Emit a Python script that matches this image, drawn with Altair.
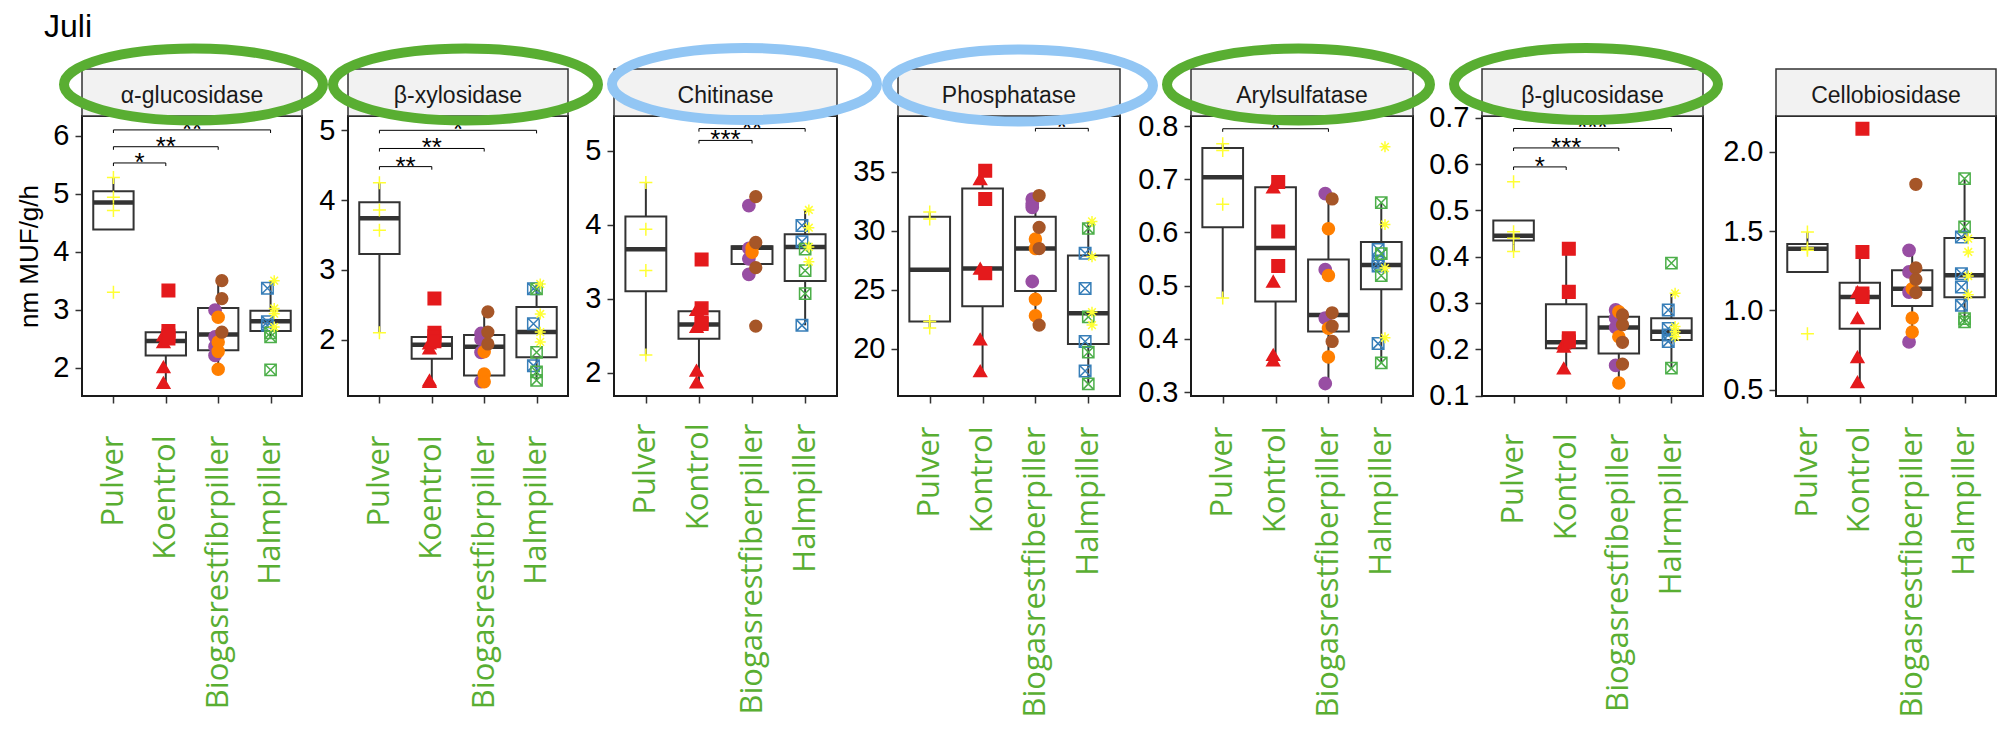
import altair as alt
import pandas as pd

# ---------------- data ----------------
ENZYMES = ["α-glucosidase", "β-xylosidase", "Chitinase", "Phosphatase",
           "Arylsulfatase", "β-glucosidase", "Cellobiosidase"]

X_LABELS = [
    ["Pulver", "Koentrol", "Biogasrestfibrpiller", "Halmpiller"],
    ["Pulver", "Koentrol", "Biogasrestfibrpiller", "Halmpiller"],
    ["Pulver", "Kontrol", "Biogasrestfiberpiller", "Halmpiller"],
    ["Pulver", "Kontrol", "Biogasrestfiberpiller", "Halmpiller"],
    ["Pulver", "Kontrol", "Biogasrestfiberpiller", "Halmpiller"],
    ["Pulver", "Kontrol", "Biogasrestfibepiller", "Halrmpiller"],
    ["Pulver", "Kontrol", "Biogasrestfiberpiller", "Halmpiller"],
]

Y_DOMAINS = [[1.51, 6.34], [1.195, 5.205], [1.685, 5.47], [15.98, 39.75],
             [0.2925, 0.819], [0.099, 0.704], [0.46, 2.227]]
Y_TICKS = [[2, 3, 4, 5, 6], [2, 3, 4, 5], [2, 3, 4, 5], [20, 25, 30, 35],
           [0.3, 0.4, 0.5, 0.6, 0.7, 0.8], [0.1, 0.2, 0.3, 0.4, 0.5, 0.6, 0.7],
           [0.5, 1.0, 1.5, 2.0]]
Y_FORMATS = ["d", "d", "d", "d", ".1f", ".1f", ".1f"]

# individual measurements, one list per panel
PULVER = [[5.28, 4.94, 4.71, 3.30], [4.25, 3.86, 3.57, 2.10], [4.57, 3.94, 3.38, 2.24],
          [31.6, 31.0, 22.3, 21.75], [0.767, 0.754, 0.653, 0.477],
          [0.562, 0.454, 0.440, 0.411], [1.495, 1.394, 1.379, 0.853]]
KONTROL_TRI = [[2.56, 2.44, 2.01, 1.74], [1.95, 1.88, 1.42, 1.40], [2.85, 2.62, 2.03, 1.87],
               [34.4, 26.8, 20.8, 18.1], [0.685, 0.508, 0.370, 0.360],
               [0.213, 0.206, 0.159], [1.116, 0.952, 0.706, 0.548]]
KONTROL_SQ = [[3.33, 2.63, 2.55, 2.50], [2.59, 2.10, 2.05, 1.98], [3.53, 2.87, 2.68, 2.66],
              [35.1, 32.7, 26.4], [0.695, 0.602, 0.537],
              [0.417, 0.324, 0.224, 0.217], [2.147, 1.369, 1.106, 1.085]]
BIO_PURPLE = [[2.99, 2.53, 2.36, 2.21], [2.09, 2.01, 1.82, 1.40], [4.26, 3.68, 3.54, 3.33],
              [32.7, 32.3, 32.0, 25.7], [0.673, 0.530, 0.439, 0.316],
              [0.285, 0.267, 0.247, 0.165], [1.379, 1.243, 1.116, 0.801]]
BIO_ORANGE = [[2.87, 2.44, 2.28, 1.97], [1.83, 1.51, 1.40], [3.69, 3.63],
              [29.3, 28.5, 24.2, 22.8], [0.607, 0.519, 0.420, 0.366],
              [0.281, 0.227, 0.127], [1.137, 0.952, 0.864]]
BIO_BROWN = [[3.50, 3.19, 2.61], [2.40, 2.11, 1.94], [4.38, 3.76, 3.42, 2.63],
             [33.0, 30.3, 28.5, 22.0], [0.663, 0.449, 0.424, 0.395],
             [0.274, 0.253, 0.215, 0.168], [1.796, 1.268, 1.196, 1.112]]
HALM_BLUE = [[3.37, 2.79, 2.73], [2.73, 2.23, 1.63], [3.99, 3.77, 2.64],
             [28.1, 25.1, 20.6, 18.1], [0.568, 0.544, 0.537, 0.391],
             [0.285, 0.245, 0.231, 0.217], [1.463, 1.232, 1.148, 1.032]]
HALM_GREEN = [[2.60, 2.53, 1.96], [2.73, 1.82, 1.54, 1.42], [3.67, 3.38, 3.07],
              [30.2, 22.7, 19.7, 17.0], [0.656, 0.560, 0.519, 0.355],
              [0.386, 0.159], [1.832, 1.527, 0.948, 0.927]]
HALM_STAR = [[3.50, 3.02, 2.93, 2.70], [2.80, 2.37, 2.11, 1.97], [4.20, 3.96, 3.70, 3.50],
             [30.8, 27.8, 23.1, 22.0], [0.761, 0.615, 0.533, 0.402],
             [0.321, 0.249, 0.238, 0.227], [1.453, 1.369, 1.217, 1.099]]

# box statistics per panel, order Pulver, Kontrol, Biogas, Halm
BOX_LO = [[4.71, 1.74, 1.97, 2.53], [2.10, 1.40, 1.40, 1.42], [2.24, 1.87, 3.33, 2.64],
          [21.75, 18.1, 22.0, 17.0], [0.477, 0.360, 0.316, 0.355],
          [0.411, 0.159, 0.127, 0.159], [1.379, 0.548, 0.801, 0.927]]
BOX_Q1 = [[4.38, 2.21, 2.30, 2.63], [3.23, 1.73, 1.49, 1.75], [3.10, 2.46, 3.47, 3.24],
          [22.3, 23.6, 24.9, 20.4], [0.610, 0.470, 0.414, 0.493],
          [0.435, 0.202, 0.191, 0.220], [1.243, 0.885, 1.028, 1.083]]
BOX_MED = [[4.85, 2.46, 2.57, 2.80], [3.74, 1.93, 1.90, 2.11], [3.67, 2.65, 3.69, 3.70],
           [26.7, 26.8, 28.5, 23.0], [0.704, 0.571, 0.445, 0.539],
           [0.445, 0.215, 0.247, 0.238], [1.390, 1.085, 1.137, 1.222]]
BOX_Q3 = [[5.04, 2.61, 3.03, 2.98], [3.97, 2.04, 2.07, 2.47], [4.11, 2.83, 3.71, 3.87],
          [31.2, 33.6, 31.2, 27.9], [0.759, 0.685, 0.549, 0.582],
          [0.478, 0.297, 0.270, 0.267], [1.420, 1.175, 1.253, 1.457]]
BOX_HI = [[5.28, 2.63, 3.50, 3.50], [4.25, 2.10, 2.40, 2.80], [4.57, 2.87, 3.76, 4.20],
          [31.6, 35.1, 33.0, 30.8], [0.767, 0.695, 0.673, 0.656],
          [0.454, 0.417, 0.285, 0.321], [1.495, 1.369, 1.379, 1.832]]

# significance brackets per panel: from group, to group, height, label
BRACKET_FROM = [[1, 1, 1], [1, 1, 1], [2, 2], [3], [1], [1, 1, 1], []]
BRACKET_TO = [[2, 3, 4], [2, 3, 4], [3, 4], [4], [3], [2, 3, 4], []]
BRACKET_Y = [[5.53, 5.81, 6.10], [4.48, 4.74, 5.00], [5.14, 5.30], [38.7], [0.795],
             [0.594, 0.635, 0.677], []]
BRACKET_LABEL = [["*", "**", "**"], ["**", "**", "*"], ["***", "**"], ["*"], ["*"],
                 ["*", "***", "***"], []]

TITLE = "Juli"

# ---------------- styling / layout ----------------
GREEN = "#59AE32"
BLUE = "#92C6F4"
ELL_COLOR = [GREEN, GREEN, BLUE, BLUE, GREEN, GREEN, None]
ELL_CX = [111.5, 117.5, 130.5, 122, 107.5, 104, 0]
ELL_CY = [-31.5, -31.5, -32, -30.5, -31.5, -32, 0]
ELL_RX = [129.5, 132.5, 132.5, 133, 131.5, 132, 0]
ELL_RY = [36, 36, 36, 36, 36, 36, 0]

WIDTHS = [220, 220, 223, 222, 222, 221, 220]     # plot area of each panel
GAPS = [46, 46, 61, 71, 69, 73, 0]               # free space right of each panel
HEIGHT = 280
LABEL_PAD = [32, 32, 20, 23, 23, 30, 23]

SUB_VALUES = [PULVER, KONTROL_TRI, KONTROL_SQ, BIO_PURPLE, BIO_ORANGE, BIO_BROWN,
              HALM_BLUE, HALM_GREEN, HALM_STAR]
SUB_NAMES = ["pulver", "k_tri", "k_sq", "b_purple", "b_orange", "b_brown",
             "h_blue", "h_green", "h_star"]
SUB_GROUP = [1, 2, 2, 3, 3, 3, 4, 4, 4]
SUB_DODGE = [0.0, -0.045, 0.05, -0.06, 0.0, 0.07, -0.06, 0.0, 0.07]

CROSS = "M-1,0L1,0M0,-1L0,1"
SQCROSS = "M-1,-1L1,-1L1,1L-1,1ZM-1,-1L1,1M1,-1L-1,1"
STAR = "M-1,0L1,0M0,-1L0,1M-0.7,-0.7L0.7,0.7M0.7,-0.7L-0.7,0.7"
SHAPES = [CROSS, "triangle-up", "square", "circle", "circle", "circle", SQCROSS, SQCROSS, STAR]
STROKES = ["#FFFF33", "#E41A1C", "#E41A1C", "#984EA3", "#FF7F00", "#A65628",
           "#377EB8", "#4DAF4A", "#FFFF33"]
FILLS = ["transparent", "#E41A1C", "#E41A1C", "#984EA3", "#FF7F00", "#A65628",
         "transparent", "transparent", "transparent"]
SIZES = [169, 120, 105, 90, 90, 90, 115, 115, 196]

BOX_HALF = 0.385


def ellipse_path(r):
    k = 0.5523
    a, b = k * r, r
    return (f"M-1,0C-1,{-a:.4f} {-k},{-b:.4f} 0,{-b:.4f}"
            f"C{k},{-b:.4f} 1,{-a:.4f} 1,0"
            f"C1,{a:.4f} {k},{b:.4f} 0,{b:.4f}"
            f"C{-k},{b:.4f} -1,{a:.4f} -1,0Z")


def panel(i):
    W = WIDTHS[i]
    dom = Y_DOMAINS[i]
    xs = alt.Scale(domain=[0.4, 4.6], range=[0, W], nice=False, zero=False)
    ys = alt.Scale(domain=dom, nice=False, zero=False)
    labels_js = "[" + ",".join("'" + s + "'" for s in X_LABELS[i]) + "]"
    xaxis = alt.Axis(values=[1, 2, 3, 4], labelExpr=labels_js + "[datum.value - 1]",
                     labelAngle=-90, labelFontSize=31, labelFont="Open Sans",
                     labelColor=GREEN, labelPadding=LABEL_PAD[i], labelLimit=0,
                     tickSize=7, tickColor="#333333", tickWidth=1.5, domain=False,
                     grid=False, labelOverlap=False, labelFlush=False)
    ykw = dict(values=Y_TICKS[i], format=Y_FORMATS[i], labelFontSize=29,
               labelFont="Liberation Sans", labelColor="#000000", labelPadding=6,
               tickSize=7, tickColor="#333333", tickWidth=1.5, domain=False,
               grid=False, labelOverlap=False, labelFlush=False)
    ytitle = None
    if i == 0:
        ytitle = "nm MUF/g/h"
        ykw.update(titleFontSize=26, titleFont="Liberation Sans", titleFontWeight="normal",
                   titleColor="#000000", titlePadding=10)
    yaxis = alt.Axis(**ykw)

    def X(f):
        return alt.X(f + ":Q", scale=xs, axis=xaxis, title=None)

    def Y(f):
        return alt.Y(f + ":Q", scale=ys, axis=yaxis, title=ytitle)

    box = pd.DataFrame({
        "grp": [1, 2, 3, 4],
        "lo": BOX_LO[i], "q1": BOX_Q1[i], "med": BOX_MED[i],
        "q3": BOX_Q3[i], "hi": BOX_HI[i],
    })
    box["xl"] = box["grp"] - BOX_HALF
    box["xr"] = box["grp"] + BOX_HALF

    rows = []
    for name, grp, dodge, vals in zip(SUB_NAMES, SUB_GROUP, SUB_DODGE, SUB_VALUES):
        for v in vals[i]:
            rows.append({"sub": name, "xp": grp + dodge, "v": v})
    pts = pd.DataFrame(rows)

    layers = [
        alt.Chart(box).mark_rule(color="#333333", strokeWidth=2).encode(
            x=X("grp"), y=Y("lo"), y2="hi"),
        alt.Chart(box).mark_rect(fill="white", stroke="#333333", strokeWidth=2).encode(
            x=X("xl"), x2="xr", y=Y("q1"), y2="q3"),
        alt.Chart(box).mark_rule(color="#333333", strokeWidth=4.5).encode(
            x=X("xl"), x2="xr", y=Y("med")),
        alt.Chart(pts).mark_point(opacity=1, fillOpacity=1, strokeWidth=1.5).encode(
            x=X("xp"), y=Y("v"),
            shape=alt.Shape("sub:N", scale=alt.Scale(domain=SUB_NAMES, range=SHAPES), legend=None),
            stroke=alt.Stroke("sub:N", scale=alt.Scale(domain=SUB_NAMES, range=STROKES), legend=None),
            fill=alt.Fill("sub:N", scale=alt.Scale(domain=SUB_NAMES, range=FILLS), legend=None),
            size=alt.Size("sub:N", scale=alt.Scale(domain=SUB_NAMES, range=SIZES), legend=None),
        ),
    ]

    if BRACKET_FROM[i]:
        tip = (dom[1] - dom[0]) * 0.011
        br = pd.DataFrame({"xa": BRACKET_FROM[i], "xb": BRACKET_TO[i],
                           "yb": BRACKET_Y[i], "lab": BRACKET_LABEL[i]})
        br["xm"] = (br["xa"] + br["xb"]) / 2
        tips = pd.DataFrame({
            "xt": list(br["xa"]) + list(br["xb"]),
            "yb": list(br["yb"]) * 2,
        })
        tips["ytip"] = tips["yb"] - tip
        layers += [
            alt.Chart(br).mark_rule(color="#000000", strokeWidth=1).encode(
                x=X("xa"), x2="xb", y=Y("yb")),
            alt.Chart(tips).mark_rule(color="#000000", strokeWidth=1).encode(
                x=X("xt"), y=Y("yb"), y2="ytip"),
            alt.Chart(br).mark_text(fontSize=26, font="Liberation Sans", baseline="alphabetic",
                                    dy=8, clip=True, color="#000000").encode(
                x=X("xm"), y=Y("yb"), text="lab:N"),
        ]

    one = pd.DataFrame({"k": [0]})
    layers += [
        # panel border
        alt.Chart(one).mark_rect(fill="transparent", stroke="#1A1A1A", strokeWidth=2).encode(
            x=alt.value(0), x2=alt.value(W), y=alt.value(0), y2=alt.value(HEIGHT)),
        # strip
        alt.Chart(one).mark_rect(fill="#F2F2F2", stroke="#333333", strokeWidth=1.5).encode(
            x=alt.value(0), x2=alt.value(W), y=alt.value(-47), y2=alt.value(0)),
        alt.Chart(one).mark_text(text=ENZYMES[i], fontSize=23, font="Liberation Sans",
                                 color="#1A1A1A", baseline="alphabetic", align="center").encode(
            x=alt.value(W / 2), y=alt.value(-13)),
    ]
    if ELL_COLOR[i]:
        path = ellipse_path(ELL_RY[i] / ELL_RX[i])
        layers.append(
            alt.Chart(one).mark_point(shape=path, size=(2 * ELL_RX[i]) ** 2, filled=False,
                                      stroke=ELL_COLOR[i], strokeWidth=10, opacity=1,
                                      strokeJoin="round").encode(
                x=alt.value(ELL_CX[i]), y=alt.value(ELL_CY[i]))
        )
    if i == 0:
        layers.append(
            alt.Chart(one).mark_text(text=TITLE, fontSize=32, font="Liberation Sans",
                                     color="#000000", align="left",
                                     baseline="alphabetic").encode(
                x=alt.value(-38), y=alt.value(-79))
        )
    return alt.layer(*layers).properties(width=W + GAPS[i], height=HEIGHT)


chart = alt.hconcat(*[panel(i) for i in range(7)], spacing=0, bounds="flush").properties(
    padding={"left": 8, "top": 3, "right": 0, "bottom": 0},
).configure_view(strokeWidth=0)

chart.save("out.html", embed_options={"renderer": "svg", "actions": False})
